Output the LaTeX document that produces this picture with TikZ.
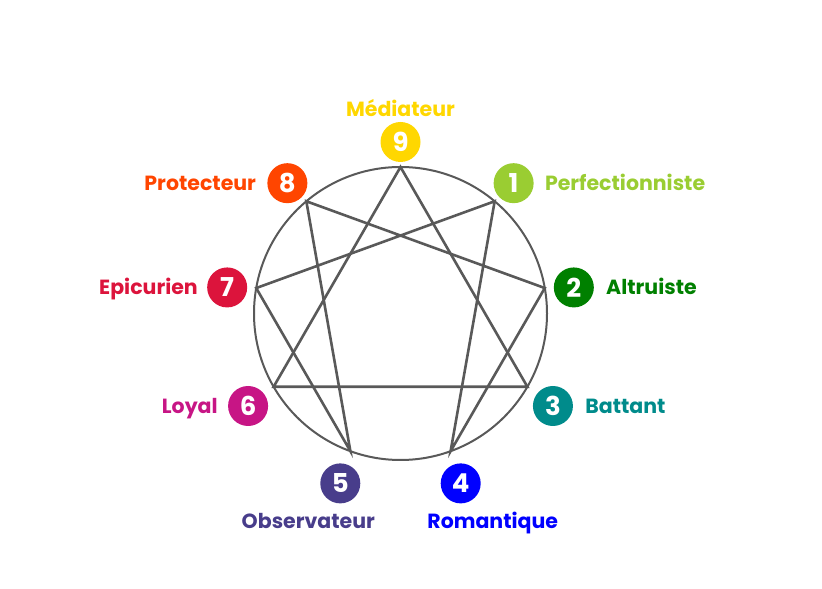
\documentclass[tikz,border=0pt]{standalone}
\usepackage{fontspec}
\setmainfont{Poppins}
\usetikzlibrary{positioning}

\definecolor{tgold}{HTML}{FFD700}
\definecolor{tyellowgreen}{HTML}{9ACD32}
\definecolor{tgreen}{HTML}{008000}
\definecolor{tcyan}{HTML}{008B8B}
\definecolor{tblue}{HTML}{0000FF}
\definecolor{tslate}{HTML}{483D8B}
\definecolor{tviolet}{HTML}{C71585}
\definecolor{tcrimson}{HTML}{DC143C}
\definecolor{torange}{HTML}{FF4500}
\definecolor{tline}{HTML}{595959}

\begin{document}
\begin{tikzpicture}[x=1pt,y=1pt,
  badge/.style={circle,fill=#1,text=white,minimum size=40pt,inner sep=0pt,
    font=\fontsize{26}{26}\selectfont\bfseries},
  typelabel/.style={text=#1,inner sep=0pt,text height=14.5pt,text depth=0pt,
    font=\fontsize{20.5}{21}\selectfont\bfseries},
  figure/.style={draw=tline,line width=2.6pt,line join=miter}]
  \useasboundingbox (0,0) rectangle (822,589);
  \coordinate (c) at (400.5,275.5);
  \coordinate (bc) at (400.5,271);

  % Circle and corner points
  \draw[tline,line width=2pt] (c) circle (146.5);
  \foreach \n in {1,...,9} \coordinate (p\n) at ([shift={(90-40*\n:146.5)}]c);

  % Triangle and hexad
  \draw[figure] (p9) -- (p3) -- (p6) -- cycle;
  \draw[figure] (p1) -- (p4) -- (p2) -- (p8) -- (p5) -- (p7) -- cycle;

  % Badges
  \foreach \n/\col in {1/tyellowgreen,2/tgreen,3/tcyan,4/tblue,5/tslate,
    6/tviolet,7/tcrimson,8/torange,9/tgold}
    \node[badge=\col] (b\n) at ([shift={(90-40*\n:176)}]bc) {\n};

  % Labels
  \node[typelabel=tgold,above=5pt of b9] (l9) {Médiateur};
  \node[typelabel=tyellowgreen,right=11pt of b1] (l1) {Perfectionniste};
  \node[typelabel=tgreen,right=12pt of b2] (l2) {Altruiste};
  \node[typelabel=tcyan,right=12pt of b3] (l3) {Battant};
  \node[typelabel=tblue,below=10pt of b4,xshift=32pt] (l4) {Romantique};
  \node[typelabel=tslate,below=10pt of b5,xshift=-32pt] (l5) {Observateur};
  \node[typelabel=tviolet,left=10pt of b6] (l6) {Loyal};
  \node[typelabel=tcrimson,left=9pt of b7] (l7) {Epicurien};
  \node[typelabel=torange,left=11pt of b8] (l8) {Protecteur};
\end{tikzpicture}
\end{document}
